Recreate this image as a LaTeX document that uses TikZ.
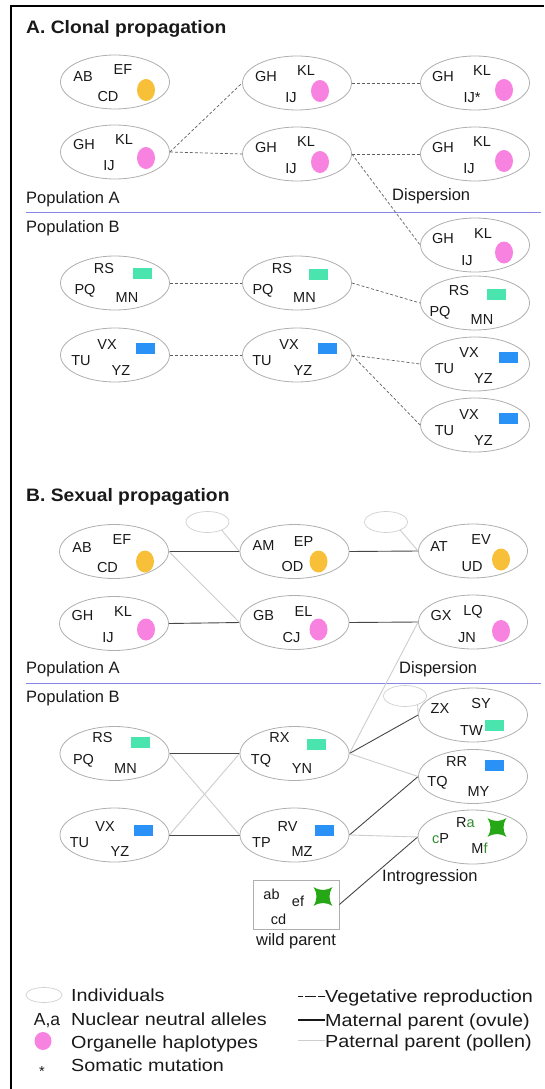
\documentclass[tikz,border=0pt]{standalone}
\usepackage{fontspec}
\setmainfont{Liberation Sans}
\usepackage{graphicx}
\usetikzlibrary{shapes.geometric,calc}
\definecolor{ink}{RGB}{25,25,25}
\definecolor{ellgray}{RGB}{175,175,175}
\definecolor{ghostgray}{RGB}{208,208,208}
\definecolor{orng}{RGB}{248,192,56}
\definecolor{pnk}{RGB}{247,130,224}
\definecolor{mint}{RGB}{74,228,175}
\definecolor{sky}{RGB}{42,146,246}
\definecolor{stargreen}{RGB}{38,168,22}
\definecolor{txtgreen}{RGB}{46,140,46}
\definecolor{divblue}{RGB}{135,135,230}
\definecolor{vegc}{RGB}{95,95,95}
\definecolor{matc}{RGB}{70,70,70}
\definecolor{patc}{RGB}{205,205,205}
\newcommand\sx[2]{\scalebox{#1}[1]{#2}}
\newcommand\lbl[4]{\node[lab] (#1) at ($(#2)+(#3)$) {#4};}
\newcommand\orgn[4]{\node[#4] (#1) at ($(#2)+(#3)$) {};}
\newcommand\gstar[1]{\fill[stargreen,shift={#1}] (-9.5,-9.5) .. controls (-3,-5.5) and (3,-5.5) .. (9.5,-9.5) .. controls (5.5,-3) and (5.5,3) .. (9.5,9.5) .. controls (3,5.5) and (-3,5.5) .. (-9.5,9.5) .. controls (-5.5,3) and (-5.5,-3) .. (-9.5,-9.5) -- cycle;}
\tikzset{
  indiv/.style={ellipse, draw=ellgray, line width=0.8pt, minimum width=109pt, minimum height=54pt, inner sep=0pt},
  ghost/.style={ellipse, draw=ghostgray, line width=0.7pt, minimum width=43pt, minimum height=21pt, inner sep=0pt},
  lab/.style={font=\fontsize{14.5}{16}\selectfont, text=ink, inner sep=0pt},
  orgc/.style={ellipse, fill=#1, minimum width=18pt, minimum height=22pt, inner sep=0pt},
  orgr/.style={rectangle, fill=#1, minimum width=19pt, minimum height=11pt, inner sep=0pt},
  veg/.style={draw=vegc, line width=0.7pt, dash pattern=on 3pt off 2pt},
  mat/.style={draw=matc, line width=0.9pt},
  pat/.style={draw=patc, line width=0.9pt},
  divider/.style={draw=divblue, line width=0.9pt},
  ttl/.style={font=\fontsize{18}{21}\selectfont\bfseries, text=ink, inner sep=0pt, anchor=base west},
  poplab/.style={font=\fontsize{16.5}{19}\selectfont, text=ink, inner sep=0pt, anchor=base west},
  leg/.style={font=\fontsize{17.5}{20}\selectfont, text=ink, inner sep=0pt, anchor=base west},
}
\begin{document}
\begin{tikzpicture}[x=1pt,y=-1pt]
\useasboundingbox (0,0) rectangle (544,1089);
\draw[line width=2.2pt, line join=miter] (11,1089) -- (11,6) -- (544,6);

% ================= A. Clonal propagation =================
\node[ttl] (titleA) at (26,34) {\sx{1.07}{A. Clonal propagation}};

\node[indiv] (a1) at (115,82) {};
\lbl{a1x}{a1}{-32,-5}{AB}\lbl{a1y}{a1}{8,-12}{EF}\lbl{a1z}{a1}{-7,15}{CD}\orgn{a1o}{a1}{31,8}{orgc=orng}
\node[indiv] (a2) at (115,152) {};
\lbl{a2x}{a2}{-31,-7}{GH}\lbl{a2y}{a2}{9,-12}{KL}\lbl{a2z}{a2}{-6,14}{IJ}\orgn{a2o}{a2}{31,6}{orgc=pnk}
\node[indiv] (a3) at (297,83) {};
\lbl{a3x}{a3}{-31,-6}{GH}\lbl{a3y}{a3}{9,-12}{KL}\lbl{a3z}{a3}{-6,15}{IJ}\orgn{a3o}{a3}{23,8}{orgc=pnk}
\node[indiv] (a4) at (297,154) {};
\lbl{a4x}{a4}{-31,-6}{GH}\lbl{a4y}{a4}{9,-12}{KL}\lbl{a4z}{a4}{-6,15}{IJ}\orgn{a4o}{a4}{23,8}{orgc=pnk}
\node[indiv] (a5) at (475,83) {};
\lbl{a5x}{a5}{-32,-6}{GH}\lbl{a5y}{a5}{7,-12}{KL}\lbl{a5z}{a5}{-3,15}{IJ*}\orgn{a5o}{a5}{29,7}{orgc=pnk}
\node[indiv] (a6) at (475,154) {};
\lbl{a6x}{a6}{-32,-6}{GH}\lbl{a6y}{a6}{7,-12}{KL}\lbl{a6z}{a6}{-6,15}{IJ}\orgn{a6o}{a6}{29,7}{orgc=pnk}

\node[poplab] (popAa) at (26,203) {Population A};
\node[poplab] (dispA) at (392,200) {Dispersion};
\coordinate (divAl) at (26,212); \coordinate (divAr) at (541,212);
\draw[divider] (divAl) -- (divAr);
\node[poplab] (popBa) at (26,232) {Population B};

\node[indiv] (bd) at (475,245) {};
\lbl{bdx}{bd}{-32,-6}{GH}\lbl{bdy}{bd}{8,-11}{KL}\lbl{bdz}{bd}{-8,16}{IJ}\orgn{bdo}{bd}{29,7.5}{orgc=pnk}

\node[indiv] (b1) at (115,283) {};
\lbl{b1x}{b1}{-11,-14}{RS}\lbl{b1y}{b1}{-30,8}{PQ}\lbl{b1z}{b1}{12,15}{MN}\orgn{b1o}{b1}{27,-10}{orgr=mint}
\node[indiv] (b2) at (297,283) {};
\lbl{b2x}{b2}{-15,-14}{RS}\lbl{b2y}{b2}{-34,8}{PQ}\lbl{b2z}{b2}{7.5,15}{MN}\orgn{b2o}{b2}{21.5,-8.5}{orgr=mint}
\node[indiv] (b3) at (475,303) {};
\lbl{b3x}{b3}{-16,-12}{RS}\lbl{b3y}{b3}{-35,9.5}{PQ}\lbl{b3z}{b3}{7,17}{MN}\orgn{b3o}{b3}{21.5,-8.5}{orgr=mint}

\node[indiv] (b4) at (115,355) {};
\lbl{b4x}{b4}{-8,-10}{VX}\lbl{b4y}{b4}{-34,6}{TU}\lbl{b4z}{b4}{6,16}{YZ}\orgn{b4o}{b4}{30,-7}{orgr=sky}
\node[indiv] (b5) at (297,355) {};
\lbl{b5x}{b5}{-8,-10}{VX}\lbl{b5y}{b5}{-35,6}{TU}\lbl{b5z}{b5}{6,16}{YZ}\orgn{b5o}{b5}{30,-7}{orgr=sky}
\node[indiv] (b6) at (475,364) {};
\lbl{b6x}{b6}{-6,-11}{VX}\lbl{b6y}{b6}{-30.5,5}{TU}\lbl{b6z}{b6}{8.5,15}{YZ}\orgn{b6o}{b6}{33,-7}{orgr=sky}
\node[indiv] (b7) at (475,425) {};
\lbl{b7x}{b7}{-6,-10}{VX}\lbl{b7y}{b7}{-30.5,6}{TU}\lbl{b7z}{b7}{8.5,16}{YZ}\orgn{b7o}{b7}{33,-6.5}{orgr=sky}

\draw[veg] (a2.east) -- (a3.west);
\draw[veg] (a2.east) -- (a4.west);
\draw[veg] (a3.east) -- (a5.west);
\draw[veg] (a4.east) -- (a6.west);
\draw[veg] (a4.east) -- (bd.west);
\draw[veg] (b1.east) -- (b2.west);
\draw[veg] (b2.east) -- (b3.west);
\draw[veg] (b4.east) -- (b5.west);
\draw[veg] (b5.east) -- (b6.west);
\draw[veg] (b5.east) -- (b7.west);

% ================= B. Sexual propagation =================
\node[ttl] (titleB) at (26,501) {\sx{1.07}{B. Sexual propagation}};

\node[ghost] (g1) at (207.5,522) {};
\node[ghost] (g2) at (386,522) {};

\node[indiv] (c1) at (114,551.5) {};
\lbl{c1x}{c1}{-32,-4}{AB}\lbl{c1y}{c1}{8,-11.5}{EF}\lbl{c1z}{c1}{-6.5,16}{CD}\orgn{c1o}{c1}{31,10}{orgc=orng}
\node[indiv] (c2) at (294.5,551.5) {};
\lbl{c2x}{c2}{-31,-6}{AM}\lbl{c2y}{c2}{9,-10}{EP}\lbl{c2z}{c2}{-2,15}{OD}\orgn{c2o}{c2}{24,10}{orgc=orng}
\node[indiv] (c3) at (473,551) {};
\lbl{c3x}{c3}{-34,-4}{AT}\lbl{c3y}{c3}{8,-11}{EV}\lbl{c3z}{c3}{-1,16}{UD}\orgn{c3o}{c3}{28,8.5}{orgc=orng}
\node[indiv] (c4) at (114,623.5) {};
\lbl{c4x}{c4}{-31.5,-7.5}{GH}\lbl{c4y}{c4}{9,-11.5}{KL}\lbl{c4z}{c4}{-6,14}{IJ}\orgn{c4o}{c4}{32,6}{orgc=pnk}
\node[indiv] (c5) at (294.5,622.5) {};
\lbl{c5x}{c5}{-31,-6.5}{GB}\lbl{c5y}{c5}{9,-10.5}{EL}\lbl{c5z}{c5}{-3,15.5}{CJ}\orgn{c5o}{c5}{24,7}{orgc=pnk}
\node[indiv] (c6) at (473,622) {};
\lbl{c6x}{c6}{-32,-6}{GX}\lbl{c6y}{c6}{0,-10}{LQ}\lbl{c6z}{c6}{-6,16}{JN}\orgn{c6o}{c6}{28,9}{orgc=pnk}

\node[poplab] (popAb) at (26,673) {Population A};
\node[poplab] (dispB) at (399,673) {Dispersion};
\coordinate (divBl) at (26,683); \coordinate (divBr) at (541,683);
\draw[divider] (divBl) -- (divBr);
\node[poplab] (popBb) at (26,702) {Population B};

\node[ghost] (g3) at (405,696) {};

\node[indiv] (d1) at (114.5,753.5) {};
\lbl{d1x}{d1}{-12,-15.5}{RS}\lbl{d1y}{d1}{-31,7}{PQ}\lbl{d1z}{d1}{11,15}{MN}\orgn{d1o}{d1}{26,-11.5}{orgr=mint}
\node[indiv] (d2) at (294.5,753.5) {};
\lbl{d2x}{d2}{-15,-15.5}{RX}\lbl{d2y}{d2}{-33.5,7}{TQ}\lbl{d2z}{d2}{7.5,15}{YN}\orgn{d2o}{d2}{21.5,-9.5}{orgr=mint}
\node[indiv] (d3) at (473,715) {};
\lbl{d3x}{d3}{-33,-6}{ZX}\lbl{d3y}{d3}{8,-11}{SY}\lbl{d3z}{d3}{-1.5,16}{TW}\orgn{d3o}{d3}{21.5,10.5}{orgr=mint}
\node[indiv] (d4) at (473,776.5) {};
\lbl{d4x}{d4}{-16.5,-14.5}{RR}\lbl{d4y}{d4}{-35.5,6}{TQ}\lbl{d4z}{d4}{5.5,15.5}{MY}\orgn{d4o}{d4}{21.5,-11.5}{orgr=sky}
\node[indiv] (d5) at (114.5,835) {};
\lbl{d5x}{d5}{-9.5,-8}{VX}\lbl{d5y}{d5}{-35,7.5}{TU}\lbl{d5z}{d5}{5.5,17}{YZ}\orgn{d5o}{d5}{29,-5}{orgr=sky}
\node[indiv] (d6) at (294.5,835) {};
\lbl{d6x}{d6}{-7,-8}{RV}\lbl{d6y}{d6}{-33,7.5}{TP}\lbl{d6z}{d6}{7.5,17}{MZ}\orgn{d6o}{d6}{30,-5}{orgr=sky}
\node[indiv] (d7) at (472.5,837) {};
\lbl{d7x}{d7}{-7,-14}{R\textcolor{txtgreen}{a}}\lbl{d7y}{d7}{-32,2}{\textcolor{txtgreen}{c}P}\lbl{d7z}{d7}{7,11}{M\textcolor{txtgreen}{f}}
\gstar{(497,827.5)}

\node[rectangle, draw=ellgray, line width=0.8pt, minimum width=86pt, minimum height=49pt, inner sep=0pt] (w) at (296,904.5) {};
\lbl{wx}{w}{-24.5,-10.5}{ab}\lbl{wy}{w}{2,-3.5}{ef}\lbl{wz}{w}{-17.5,14.5}{cd}
\gstar{(323,896.5)}
\node[poplab, anchor=base] (wlab) at (296,945) {wild parent};
\node[poplab] (intro) at (382,881) {Introgression};

\draw[mat] (c1.east) -- (c2.west);
\draw[mat] (c2.east) -- (c3.west);
\draw[mat] (c4.east) -- (c5.west);
\draw[mat] (c5.east) -- (c6.west);
\draw[pat] (c1.east) -- (c5.west);
\draw[pat] (g1.-30) -- (c2.west);
\draw[pat] (g2.-30) -- (c3.west);
\draw[pat] (c6.west) -- (d2.east);

\draw[mat] (d1.east) -- (d2.west);
\draw[mat] (d5.east) -- (d6.west);
\draw[mat] (d2.east) -- (d3.west);
\draw[mat] (d6.east) -- (d4.west);
\draw[mat] (w.east) -- (d7.west);
\draw[pat] (d1.east) -- (d6.west);
\draw[pat] (d5.east) -- (d2.west);
\draw[pat] (g3.-35) -- (d3.west);
\draw[pat] (d2.east) -- (d4.west);
\draw[pat] (d6.east) -- (d7.west);

% ================= Legend =================
\node[ellipse, draw=ghostgray, line width=0.7pt, minimum width=36pt, minimum height=15pt, inner sep=0pt] (lgi) at (44,995) {};
\node[leg] (lgit) at (71,1001) {\sx{1.13}{Individuals}};
\node[leg, anchor=base] (lgaa) at (47,1025) {A,a};
\node[leg] (lgat) at (71,1025) {\sx{1.13}{Nuclear neutral alleles}};
\node[ellipse, fill=pnk, minimum width=17pt, minimum height=18pt, inner sep=0pt] (lgo) at (43,1041) {};
\node[leg] (lgot) at (71,1048) {\sx{1.13}{Organelle haplotypes}};
\node[lab, anchor=base] (lgs) at (42,1076) {*};
\node[leg] (lgst) at (71,1071) {\sx{1.13}{Somatic mutation}};

\coordinate (lv1) at (298,996.5); \coordinate (lv2) at (325,996.5);
\draw[draw=ink, line width=0.9pt, dash pattern=on 5pt off 2pt on 11pt off 2pt on 7pt off 0pt] (lv1) -- (lv2);
\node[leg] (lvt) at (325,1002) {\sx{1.13}{Vegetative reproduction}};
\coordinate (lm1) at (298,1020); \coordinate (lm2) at (325,1020);
\draw[draw=ink, line width=1.3pt] (lm1) -- (lm2);
\node[leg] (lmt) at (325,1026) {\sx{1.13}{Maternal parent (ovule)}};
\coordinate (lp1) at (298,1040.5); \coordinate (lp2) at (325,1040.5);
\draw[draw=patc, line width=1.3pt] (lp1) -- (lp2);
\node[leg] (lpt) at (325,1047) {\sx{1.13}{Paternal parent (pollen)}};
\end{tikzpicture}
\end{document}
